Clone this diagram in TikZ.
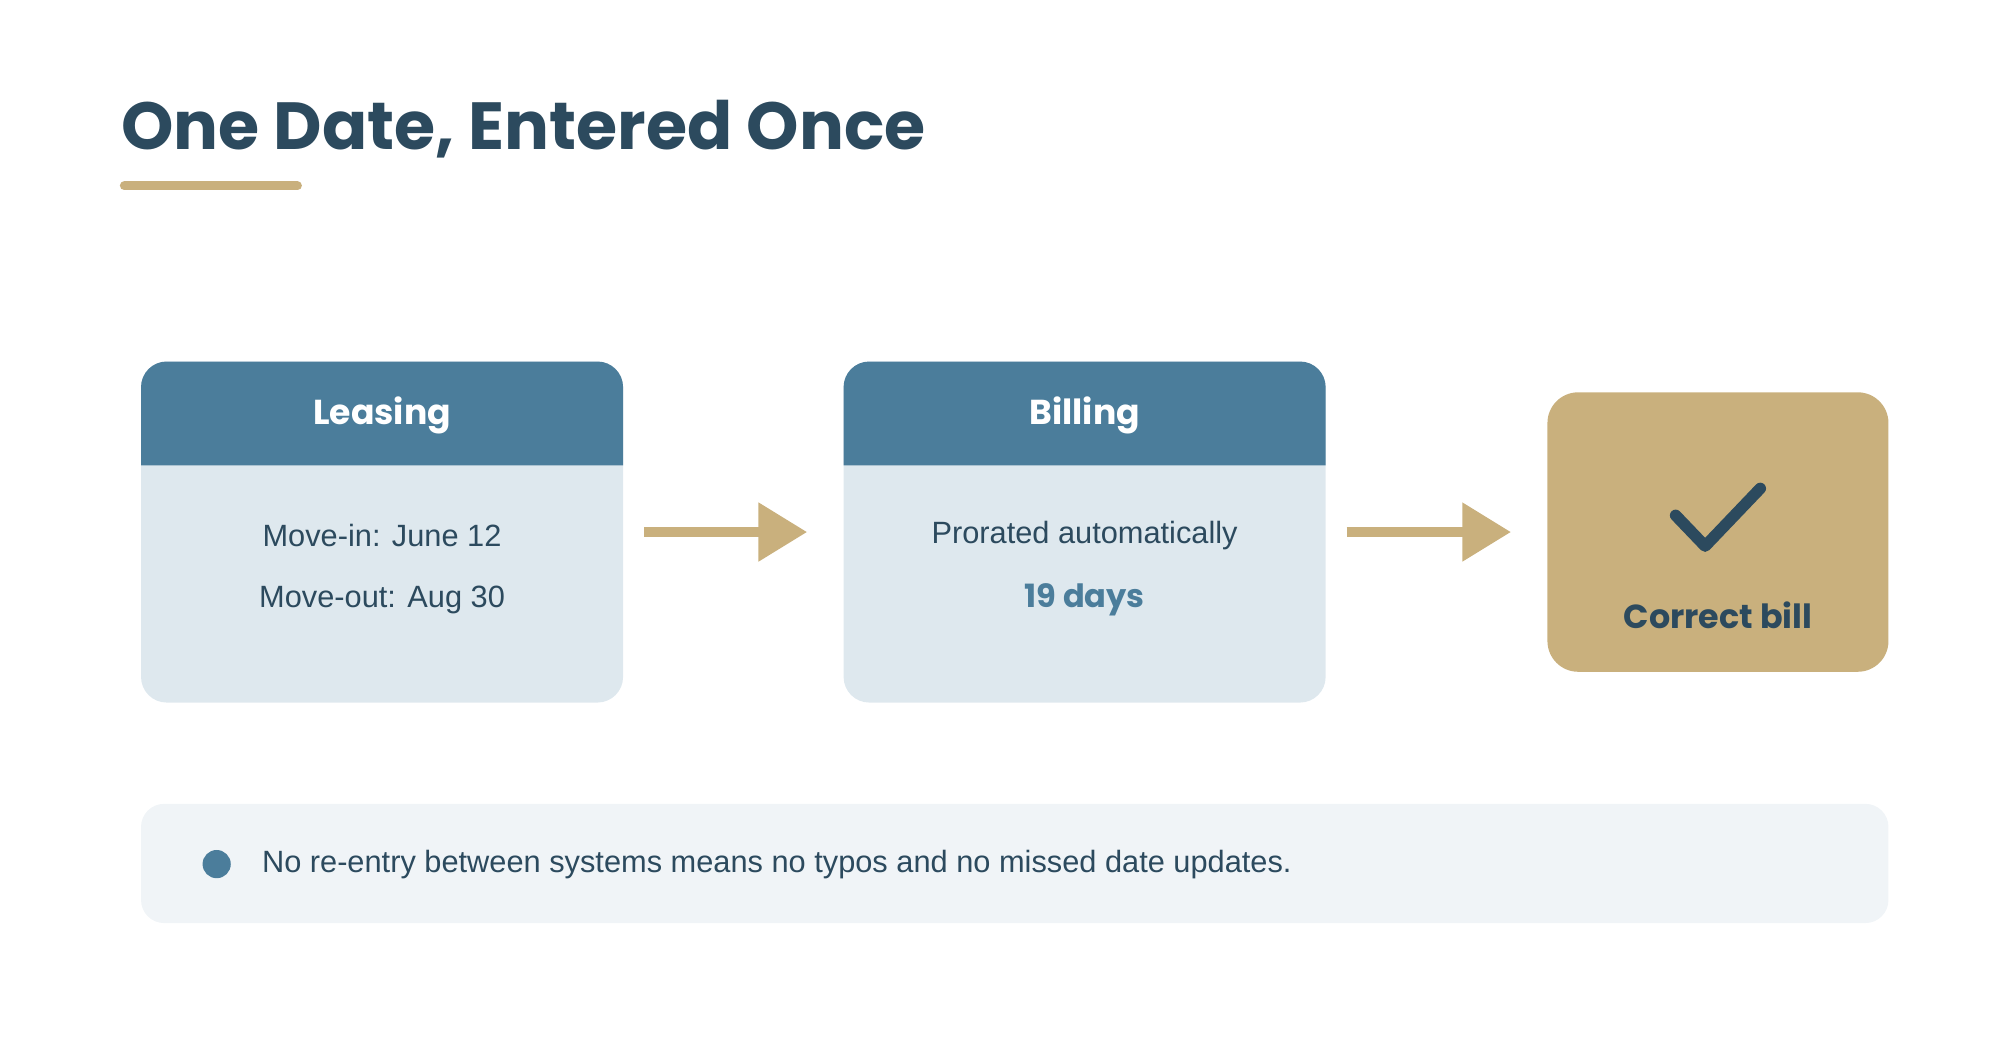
\documentclass[tikz,border=0pt]{standalone}
\usepackage{fontspec}
\setmainfont{Liberation Sans}
\newfontfamily\headfont{Poppins}
\usetikzlibrary{arrows.meta,positioning}
\definecolor{navy}{HTML}{2C4A5E}
\definecolor{hdrblue}{HTML}{4B7D9B}
\definecolor{paleblue}{HTML}{DEE8EE}
\definecolor{gold}{HTML}{C9B07D}
\definecolor{barbg}{HTML}{F0F4F7}
\tikzset{
  stage/.style={fill=paleblue,rounded corners=10pt,minimum width=188pt,minimum height=133pt,inner sep=0pt},
  flow/.style={draw=gold,line width=4pt,-{Triangle[length=19pt,width=22pt]}},
  bodytxt/.style={text=navy,font=\fontsize{12}{14}\selectfont},
  hdrtxt/.style={text=white,font=\headfont\fontsize{13.5}{16}\selectfont\bfseries}
}
\begin{document}
\begin{tikzpicture}[x=0.5pt,y=-0.5pt]
  \useasboundingbox (0,0) rectangle (1560,811.2);
  % title
  \node[anchor=base west,inner sep=0pt,text=navy,font=\headfont\fontsize{26}{30}\selectfont\bfseries] (title) at (94,117) {One Date, Entered Once};
  \draw[gold,line width=3.5pt,line cap=round] (97,145) -- (232,145);
  % stages
  \node[stage] (leasing) at (298,415) {};
  \node[stage] (billing) at (846,415) {};
  \foreach \n/\x in {leasing/110,billing/658}{
    \fill[hdrblue] (\x,363) [rounded corners=10pt] -- (\x,282) -- (\x+376,282) [sharp corners] -- (\x+376,363) -- cycle;
  }
  \node[hdrtxt] (lhead) at (298,324) {Leasing};
  \node[hdrtxt] (bhead) at (846,324) {Billing};
  \node[bodytxt] (movein) at (298,418) {Move-in: June 12};
  \node[bodytxt] (moveout) at (298,468) {Move-out: Aug 30};
  \node[bodytxt] (prorated) at (846,418) {Prorated automatically};
  \node[text=hdrblue,font=\headfont\fontsize{12.5}{14}\selectfont\bfseries] (days) at (846,468) {19 days};
  % result
  \node[fill=gold,rounded corners=12pt,minimum width=133pt,minimum height=109pt,inner sep=0pt] (bill) at (1340,415) {};
  \draw[navy,line width=4.5pt,line cap=round,line join=round] (1307,402) -- (1330,426) -- (1373,381);
  \node[text=navy,font=\headfont\fontsize{13}{15}\selectfont\bfseries] (billtxt) at (1340,480) {Correct bill};
  % connectors
  \draw[flow] ([xshift=8pt]leasing.east) -- ([xshift=-14pt]billing.west);
  \draw[flow] ([xshift=8pt]billing.east) -- ([xshift=-14pt]bill.west);
  % note
  \node[fill=barbg,rounded corners=9pt,minimum width=681.5pt,minimum height=46.5pt,inner sep=0pt] (note) at (791.5,673.5) {};
  \fill[hdrblue] (169,674) circle (5.5pt);
  \node[bodytxt,anchor=west,inner sep=0pt] (notetxt) at (204,674) {No re-entry between systems means no typos and no missed date updates.};
\end{tikzpicture}
\end{document}
